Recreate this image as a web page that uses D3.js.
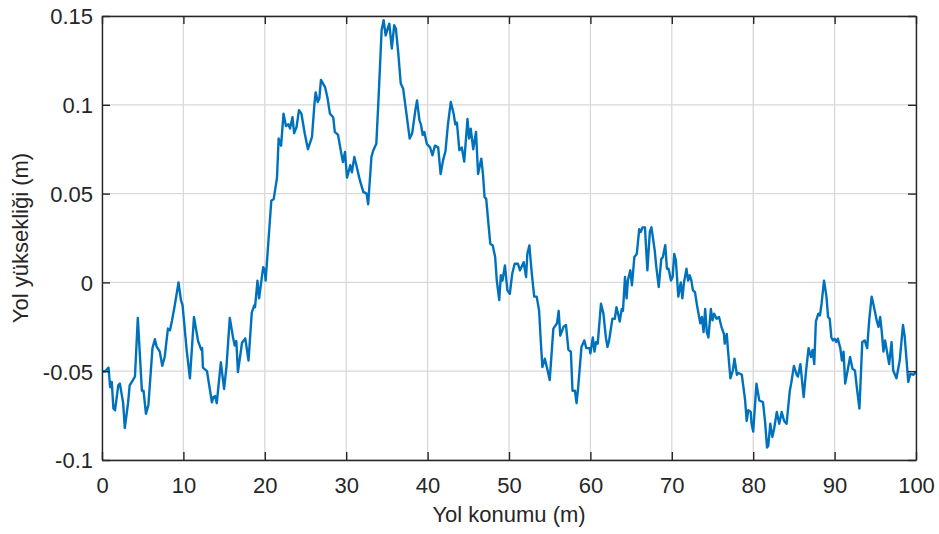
<!DOCTYPE html>
<html>
<head>
<meta charset="utf-8">
<script src="https://cdn.jsdelivr.net/npm/d3@7/dist/d3.min.js"></script>
<style>
  html, body { margin: 0; padding: 0; background: #ffffff; }
  svg { display: block; }
  text { font-family: "Liberation Sans", Arial, Helvetica, sans-serif; fill: #262626; }
</style>
</head>
<body>
<svg id="chart" width="939" height="534"></svg>
<script>
// Road position along the track (m)
const position = [
  0, 0.4, 0.8, 1.0, 1.2, 1.4, 1.6, 2.0, 2.2, 2.6, 2.8, 3.2, 3.4, 3.8, 4.05, 4.4, 4.9, 5.1, 5.4, 5.7,
  6.2, 6.5, 6.7, 7.1, 7.4, 7.7, 8.1, 8.35, 8.6, 8.9, 9.4, 9.7, 9.9, 10.4, 10.8, 11.3, 11.8, 12.2, 12.3, 12.4,
  12.9, 13.5, 13.7, 13.9, 14.1, 14.6, 15.0, 15.3, 15.7, 16.1, 16.3, 16.5, 16.7, 17.2, 17.6, 18.0, 18.4, 18.7, 18.8, 19.1,
  19.3, 19.8, 20.0, 20.1, 20.8, 21.1, 21.5, 21.7, 22.0, 22.3, 22.6, 22.9, 23.1, 23.4, 23.6, 23.9, 24.2, 24.5, 24.9, 25.3,
  25.8, 26.1, 26.25, 26.5, 26.7, 26.9, 27.4, 27.7, 28.0, 28.4, 28.6, 29.0, 29.4, 29.6, 29.85, 30.1, 30.5, 30.7, 31.0, 31.3,
  31.6, 31.8, 32.1, 32.5, 32.7, 33.1, 33.3, 33.7, 34.0, 34.35, 34.6, 34.85, 35.1, 35.3, 35.6, 35.9, 36.1, 36.4, 36.7, 37.0,
  37.4, 37.8, 38.1, 38.5, 38.7, 39.0, 39.2, 39.4, 39.6, 39.9, 40.3, 40.6, 40.9, 41.3, 41.6, 41.9, 42.2, 42.5, 42.85, 43.2,
  43.4, 43.6, 43.9, 44.2, 44.5, 44.9, 45.1, 45.3, 45.6, 45.95, 46.2, 46.6, 46.8, 47.0, 47.2, 47.4, 47.7, 48.0, 48.3, 48.5,
  48.8, 49.0, 49.2, 49.5, 49.8, 50.1, 50.4, 50.7, 51.1, 51.35, 51.8, 52.1, 52.25, 52.5, 52.8, 53.1, 53.4, 53.7, 53.9, 54.1,
  54.4, 54.7, 55.0, 55.45, 55.9, 56.1, 56.3, 56.7, 57.0, 57.3, 57.6, 57.8, 58.1, 58.3, 58.5, 58.9, 59.25, 59.5, 59.9, 60.0,
  60.3, 60.5, 60.7, 60.9, 61.3, 61.6, 61.9, 62.1, 62.3, 62.7, 63.0, 63.2, 63.4, 63.6, 63.85, 64.0, 64.25, 64.45, 64.6, 64.9,
  65.1, 65.4, 65.7, 66.0, 66.2, 66.4, 66.7, 67.0, 67.3, 67.5, 67.9, 68.1, 68.4, 68.7, 68.9, 69.2, 69.4, 69.6, 69.9, 70.1,
  70.3, 70.5, 70.8, 71.1, 71.3, 71.5, 71.8, 72.0, 72.2, 72.4, 72.6, 72.85, 73.1, 73.5, 73.7, 73.9, 74.1, 74.3, 74.5, 74.8,
  75.0, 75.2, 75.5, 75.8, 76.1, 76.4, 76.5, 76.75, 76.9, 77.2, 77.5, 77.7, 78.0, 78.2, 78.6, 79.0, 79.2, 79.4, 79.7, 79.8,
  80.0, 80.4, 80.75, 81.2, 81.45, 81.7, 81.85, 82.1, 82.35, 82.55, 82.9, 83.2, 83.5, 83.8, 84.1, 84.5, 84.7, 85.0, 85.35, 85.5,
  85.8, 86.2, 86.5, 86.8, 87.1, 87.3, 87.5, 87.7, 88.0, 88.2, 88.4, 88.7, 89.0, 89.2, 89.4, 89.6, 89.8, 90.0, 90.2, 90.4,
  90.7, 90.9, 91.1, 91.3, 91.6, 91.9, 92.2, 92.5, 92.7, 93.05, 93.4, 93.7, 94.0, 94.25, 94.55, 94.8, 95.2, 95.4, 95.6, 95.8,
  96.0, 96.2, 96.4, 96.7, 97.0, 97.2, 97.6, 98.0, 98.4, 98.6, 99.05, 99.3, 99.7, 100
];

// Road elevation at each position (m)
const elevation = [
  -0.050, -0.050, -0.048, -0.059, -0.056, -0.071, -0.072, -0.058, -0.057, -0.068, -0.082, -0.068, -0.058, -0.055, -0.053, -0.020, -0.061, -0.061, -0.074, -0.069,
  -0.037, -0.032, -0.036, -0.039, -0.047, -0.042, -0.026, -0.027, -0.0215, -0.014, 0.000, -0.010, -0.013, -0.038, -0.054, -0.0195, -0.033, -0.038, -0.037, -0.048,
  -0.050, -0.0675, -0.0645, -0.064, -0.068, -0.045, -0.060, -0.047, -0.020, -0.031, -0.0355, -0.033, -0.0505, -0.034, -0.0315, -0.044, -0.017, -0.013, -0.014, 0.001,
  -0.009, 0.0086, 0.0068, 0.001, 0.046, 0.047, 0.059, 0.081, 0.077, 0.095, 0.088, 0.089, 0.0866, 0.093, 0.084, 0.0875, 0.097, 0.095, 0.084, 0.075,
  0.082, 0.1006, 0.107, 0.1016, 0.1035, 0.114, 0.110, 0.104, 0.095, 0.093, 0.0847, 0.083, 0.0725, 0.0678, 0.0734, 0.059, 0.066, 0.062, 0.0706, 0.065,
  0.059, 0.0556, 0.051, 0.050, 0.044, 0.0706, 0.074, 0.078, 0.106, 0.142, 0.1476, 0.139, 0.143, 0.1457, 0.1317, 0.1448, 0.143, 0.129, 0.112, 0.109,
  0.095, 0.081, 0.0838, 0.097, 0.1025, 0.0913, 0.0885, 0.083, 0.0847, 0.078, 0.076, 0.0716, 0.077, 0.076, 0.061, 0.0687, 0.074, 0.089, 0.1016, 0.095,
  0.089, 0.090, 0.0744, 0.076, 0.068, 0.092, 0.081, 0.0866, 0.075, 0.0847, 0.061, 0.0697, 0.061, 0.048, 0.047, 0.0368, 0.0218, 0.0208, 0.0143, 0.001,
  -0.010, 0.004, 0.001, 0.0096, -0.0045, -0.0064, 0.005, 0.0105, 0.0105, 0.0068, 0.0114, 0.003, 0.016, 0.0208, 0.005, -0.008, -0.008, -0.016, -0.0327, -0.0477,
  -0.043, -0.0486, -0.055, -0.026, -0.023, -0.016, -0.030, -0.025, -0.024, -0.038, -0.039, -0.061, -0.061, -0.068, -0.059, -0.0364, -0.0327, -0.037, -0.037, -0.040,
  -0.031, -0.039, -0.0336, -0.0345, -0.012, -0.0176, -0.031, -0.0364, -0.0327, -0.0205, -0.0205, -0.014, -0.0176, -0.022, -0.015, -0.016, 0.003, -0.009, 0.001, 0.0068,
  -0.0017, 0.0143, 0.016, 0.030, 0.0284, 0.031, 0.031, 0.0068, 0.0284, 0.031, 0.018, 0.0086, -0.0026, 0.013, 0.0143, 0.021, 0.0077, 0.0077, 0.001, 0.003,
  0.016, 0.0124, -0.008, 0.000, -0.009, 0.000, 0.0077, 0.001, 0.004, 0.001, -0.0045, -0.0055, -0.013, -0.023, -0.0195, -0.028, -0.015, -0.028, -0.031, -0.015,
  -0.0214, -0.0176, -0.0205, -0.0195, -0.025, -0.029, -0.0345, -0.029, -0.038, -0.054, -0.0496, -0.043, -0.052, -0.051, -0.052, -0.066, -0.078, -0.072, -0.073, -0.0796,
  -0.084, -0.057, -0.0665, -0.0674, -0.078, -0.093, -0.092, -0.0796, -0.087, -0.083, -0.073, -0.0796, -0.073, -0.078, -0.0796, -0.061, -0.056, -0.047, -0.052, -0.053,
  -0.046, -0.0646, -0.0496, -0.037, -0.042, -0.038, -0.046, -0.022, -0.0176, -0.0186, -0.012, 0.001, -0.008, -0.0195, -0.0205, -0.031, -0.0327, -0.0317, -0.0336, -0.0317,
  -0.037, -0.044, -0.039, -0.057, -0.0496, -0.042, -0.0486, -0.0496, -0.058, -0.071, -0.0336, -0.0327, -0.037, -0.0214, -0.008, -0.013, -0.022, -0.025, -0.0195, -0.028,
  -0.039, -0.0327, -0.038, -0.046, -0.0336, -0.0496, -0.054, -0.044, -0.024, -0.030, -0.056, -0.0515, -0.052, -0.0505
];

// Axis ticks and their labels
const xTicks = [0, 10, 20, 30, 40, 50, 60, 70, 80, 90, 100];
const xTickLabels = ["0", "10", "20", "30", "40", "50", "60", "70", "80", "90", "100"];
const yTicks = [0.15, 0.1, 0.05, 0, -0.05, -0.1];
const yTickLabels = ["0.15", "0.1", "0.05", "0", "-0.05", "-0.1"];

const xTitle = "Yol konumu (m)";
const yTitle = "Yol yüksekliği (m)";

const svg = d3.select("#chart");
const plotLeft = 102, plotRight = 916, plotTop = 16, plotBottom = 460;

const x = d3.scaleLinear().domain([0, 100]).range([plotLeft, plotRight]);
const y = d3.scaleLinear().domain([-0.1, 0.15]).range([plotBottom, plotTop]);

const axisColor = "#262626";
const gridColor = "#d9d9d9";
const tickLen = 8;

// Grid lines
const grid = svg.append("g");
grid.selectAll("line.gx").data(xTicks).join("line")
  .attr("class", "gx")
  .attr("x1", d => x(d)).attr("x2", d => x(d))
  .attr("y1", plotTop).attr("y2", plotBottom)
  .attr("stroke", gridColor).attr("stroke-width", 1.3);
grid.selectAll("line.gy").data(yTicks).join("line")
  .attr("class", "gy")
  .attr("x1", plotLeft).attr("x2", plotRight)
  .attr("y1", d => y(d)).attr("y2", d => y(d))
  .attr("stroke", gridColor).attr("stroke-width", 1.3);

// Data line, clipped to the plotting area
svg.append("clipPath").attr("id", "plotClip")
  .append("rect").attr("x", plotLeft).attr("y", plotTop - 1)
  .attr("width", plotRight - plotLeft).attr("height", plotBottom - plotTop + 2);

const pts = position.map((p, i) => [p, elevation[i]]);
svg.append("path")
  .datum(pts)
  .attr("clip-path", "url(#plotClip)")
  .attr("fill", "none")
  .attr("stroke", "#0072BD")
  .attr("stroke-width", 2.4)
  .attr("stroke-linejoin", "round")
  .attr("d", d3.line().x(d => x(d[0])).y(d => y(d[1])));

// Axes: bottom/left carry labels, top/right mirror the ticks; ticks point inward
const fmtX = (d, i) => xTickLabels[i];
const fmtY = (d, i) => yTickLabels[i];

const gx = svg.append("g").attr("transform", `translate(0,${plotBottom})`)
  .call(d3.axisBottom(x).tickValues(xTicks).tickFormat(fmtX).tickSizeInner(-tickLen).tickSizeOuter(0).tickPadding(0));
const gxTop = svg.append("g").attr("transform", `translate(0,${plotTop})`)
  .call(d3.axisTop(x).tickValues(xTicks).tickFormat("").tickSizeInner(-tickLen).tickSizeOuter(0));
const gy = svg.append("g").attr("transform", `translate(${plotLeft},0)`)
  .call(d3.axisLeft(y).tickValues(yTicks).tickFormat(fmtY).tickSizeInner(-tickLen).tickSizeOuter(0).tickPadding(0));
const gyRight = svg.append("g").attr("transform", `translate(${plotRight},0)`)
  .call(d3.axisRight(y).tickValues(yTicks).tickFormat("").tickSizeInner(-tickLen).tickSizeOuter(0));

[gx, gxTop, gy, gyRight].forEach(g => {
  g.select(".domain").attr("stroke", axisColor).attr("stroke-width", 1.4);
  g.selectAll(".tick line").attr("stroke", axisColor).attr("stroke-width", 1.4);
  g.selectAll(".tick text")
    .attr("font-family", "Liberation Sans, Arial, sans-serif")
    .attr("font-size", 22).attr("fill", axisColor);
});
gx.selectAll(".tick text").attr("y", 33).attr("dy", null);
gy.selectAll(".tick text").attr("x", -9).attr("dy", "0.36em");

// Axis titles
svg.append("text")
  .attr("x", (plotLeft + plotRight) / 2).attr("y", 522)
  .attr("text-anchor", "middle")
  .attr("font-size", 22)
  .text(xTitle);

svg.append("text")
  .attr("transform", `translate(28,${(plotTop + plotBottom) / 2}) rotate(-90)`)
  .attr("text-anchor", "middle")
  .attr("font-size", 22)
  .text(yTitle);
</script>
</body>
</html>
